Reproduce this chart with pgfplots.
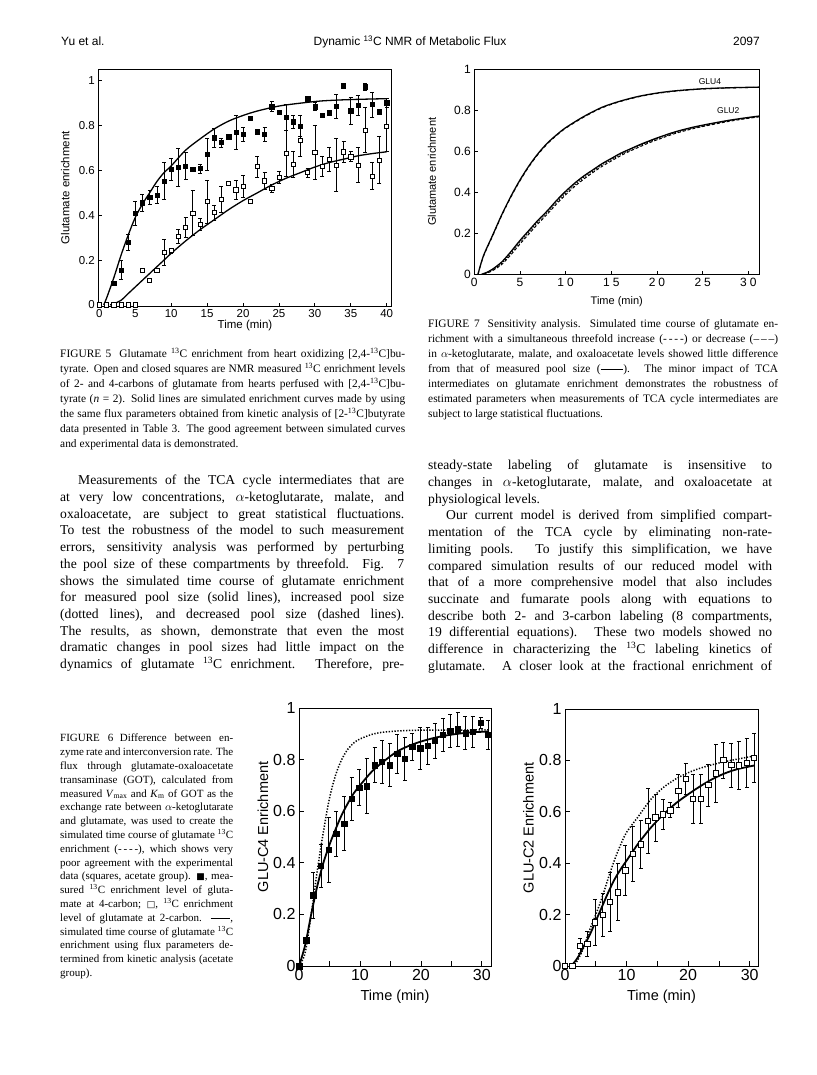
\documentclass[border=0pt]{standalone}
\usepackage{pgfplots}
\pgfplotsset{compat=1.18}
\usepackage{fontspec}
\setmainfont{Liberation Serif}
\setsansfont{Liberation Sans}
\newfontfamily\dejavu{DejaVu Sans}
\pgfplotsset{pg/.style={scale only axis, anchor=south west,
  axis line style={line width=0.9pt}, tick align=inside, tick pos=left,
  major tick style={line width=0.8pt,black},
  /pgf/number format/assume math mode=true, clip=false}}
\newcommand{\sq}{\textsuperscript{13}}
\begin{document}
\begin{tikzpicture}[x=1pt,y=1pt]
\useasboundingbox[fill=white] (0pt,0pt) rectangle (816pt,-1075pt);
% header
\node[anchor=base west,inner sep=0,font=\sffamily\fontsize{12}{12}\selectfont] at (61pt,-46pt) {Yu et al.};
\node[anchor=base,inner sep=0,font=\sffamily\fontsize{12}{12}\selectfont] at (410pt,-46pt) {Dynamic \sq C NMR of Metabolic Flux};
\node[anchor=base east,inner sep=0,font=\sffamily\fontsize{12}{12}\selectfont] at (760pt,-46pt) {2097};

% ---------------- FIGURE 5 ----------------
\begin{axis}[pg, at={(98.3pt,-306pt)}, width=293.4pt, height=236.7pt,
  xmin=-0.15, xmax=40.7, ymin=-0.005, ymax=1.051,
  xtick={0,5,...,40}, ytick={0,0.2,0.4,0.6,0.8,1},
  major tick length=3.5pt,
  tick label style={font=\sffamily\fontsize{11.5}{12}\selectfont},
  xlabel={Time (min)}, ylabel={Glutamate enrichment},
  label style={font=\sffamily\fontsize{11.5}{12}\selectfont},
  xlabel style={at={(axis description cs:0.5,-0.082)}, anchor=center},
  ylabel style={at={(axis description cs:-0.113,0.5)}, anchor=center}]
\addplot[black, line width=1.3pt, smooth] coordinates {
(0.6,0) (1,0.03) (2,0.12) (3,0.22) (4,0.31) (5,0.39) (6,0.45) (7,0.5) (8,0.55) (9,0.59) (10,0.62) (12,0.69) (14,0.74) (16,0.785) (18,0.82) (20,0.845) (22,0.865) (25,0.887) (28,0.9) (31,0.91) (35,0.916) (40,0.92)};
\addplot[black, line width=1.3pt, smooth] coordinates {
(1.5,0) (2,0.005) (3,0.02) (4,0.05) (5,0.08) (6,0.11) (7,0.14) (8,0.17) (9,0.2) (10,0.23) (12,0.285) (14,0.335) (16,0.38) (18,0.425) (20,0.465) (22,0.5) (24,0.535) (26,0.565) (28,0.59) (30,0.615) (32,0.635) (34,0.65) (36,0.665) (38,0.675) (40,0.683)};
\addplot[black, only marks, mark=square*, mark size=2.1pt, mark options={fill=black},
  error bars/.cd, y dir=both, y explicit, error bar style={line width=0.6pt},
  error mark options={rotate=90, mark size=2pt, line width=0.6pt}]
 table[x=t,y=v,y error=e] {
t v e
2 0.097 0
3 0.156 0.043
4 0.279 0.035
5 0.409 0.052
6 0.456 0.039
7 0.48 0.033
8 0.49 0.037
9 0.553 0.083
10 0.605 0.047
11 0.614 0.085
12 0.62 0.06
13 0.605 0
14 0.609 0.02
15 0.672 0.07
16 0.746 0.042
17 0.724 0.02
18 0.75 0.01
19 0.77 0.074
20 0.761 0.03
21 0.832 0
22 0.773 0
23 0.761 0.03
24 0.884 0.022
25 0.86 0
26 0.837 0.057
27 0.817 0.027
28 0.798 0.048
29 0.92 0
30 0.884 0.018
31 0.845 0
32 0.857 0
33 0.887 0.054
34 0.978 0.011
35 0.866 0.062
36 0.89 0.045
37 0.973 0.016
38 0.894 0.056
39 0.862 0
40 0.902 0.02
};
\addplot[black, only marks, mark=square*, mark size=2.1pt, mark options={fill=white, line width=0.6pt},
  error bars/.cd, y dir=both, y explicit, error bar style={line width=0.6pt},
  error mark options={rotate=90, mark size=2pt, line width=0.6pt}]
 table[x=t,y=v,y error=e] {
t v e
0 0 0
1 0 0
2 0 0
3 0 0
4 0 0
5 0 0
6 0.156 0
7 0.108 0
8 0.156 0
9 0.233 0.058
10 0.242 0.01
11 0.305 0.031
12 0.346 0.045
13 0.409 0.1
14 0.36 0.026
15 0.461 0.097
16 0.412 0.033
17 0.471 0.059
18 0.542 0
19 0.513 0.041
20 0.53 0.048
21 0.462 0
22 0.617 0.048
23 0.554 0.037
24 0.52 0.019
25 0.569 0.026
26 0.676 0.104
27 0.628 0.059
28 0.735 0.072
29 0.59 0.019
30 0.679 0.12
31 0.617 0.045
32 0.65 0.052
33 0.624 0.119
34 0.683 0.045
35 0.661 0.022
36 0.623 0.078
37 0.78 0.1
38 0.575 0.061
39 0.646 0.104
40 0.795 0.108
};
\end{axis}

% ---------------- FIGURE 7 ----------------
\begin{axis}[pg, at={(474.3pt,-274.3pt)}, width=285pt, height=205pt,
  xmin=0, xmax=31.2, ymin=0, ymax=1,
  xtick={0,5,...,30}, ytick={0,0.2,0.4,0.6,0.8,1},
  major tick length=3.5pt,
  tick label style={font=\sffamily\fontsize{12}{12}\selectfont},
  xticklabel style={font=\sffamily\fontsize{12}{12}\selectfont\addfontfeatures{LetterSpace=25}},
  xlabel={Time (min)}, ylabel={Glutamate enrichment},
  label style={font=\sffamily\fontsize{11}{12}\selectfont},
  xlabel style={at={(axis description cs:0.5,-0.135)}, anchor=center},
  ylabel style={at={(axis description cs:-0.149,0.5)}, anchor=center}]
\addplot[black, line width=1.3pt, smooth] coordinates {
(0.4,0) (1,0.09) (2,0.19) (3,0.29) (4,0.38) (5,0.46) (6,0.53) (7,0.59) (8,0.64) (9,0.68) (10,0.715) (12,0.77) (14,0.815) (16,0.845) (18,0.868) (20,0.884) (22,0.895) (25,0.905) (28,0.91) (31.2,0.913)};
\addplot[black, line width=0.9pt, smooth, dashed] coordinates {
(0.4,0) (1,0.087) (2,0.186) (3,0.286) (4,0.376) (5,0.456) (6,0.526) (7,0.586) (8,0.636) (9,0.677) (10,0.712) (12,0.767) (14,0.812) (16,0.843) (18,0.866) (20,0.882) (22,0.893) (25,0.904) (28,0.909) (31.2,0.912)};
\addplot[black, line width=1.3pt, smooth] coordinates {
(0.8,0) (1.5,0.012) (2,0.025) (3,0.06) (4,0.11) (5,0.165) (6,0.215) (7,0.265) (8,0.31) (9,0.36) (10,0.405) (11,0.445) (12,0.48) (13,0.51) (14,0.54) (15,0.565) (16,0.59) (17,0.61) (18,0.63) (19,0.648) (20,0.665) (22,0.695) (24,0.718) (26,0.736) (28,0.752) (30,0.765) (31.2,0.772)};
\addplot[black, line width=1pt, smooth, dash pattern=on 3pt off 2pt] coordinates {
(1,0) (1.5,0.008) (2,0.018) (3,0.048) (4,0.095) (5,0.148) (6,0.198) (7,0.248) (8,0.294) (9,0.343) (10,0.388) (11,0.429) (12,0.465) (13,0.497) (14,0.527) (15,0.553) (16,0.578) (17,0.6) (18,0.62) (19,0.639) (20,0.656) (22,0.687) (24,0.711) (26,0.73) (28,0.747) (30,0.761) (31.2,0.768)};
\addplot[black, line width=1pt, smooth, dash pattern=on 1.2pt off 1.5pt] coordinates {
(0.9,0) (1.5,0.01) (2,0.021) (3,0.054) (4,0.103) (5,0.157) (6,0.207) (7,0.257) (8,0.302) (9,0.352) (10,0.397) (11,0.437) (12,0.473) (13,0.504) (14,0.534) (15,0.559) (16,0.584) (17,0.605) (18,0.625) (19,0.644) (20,0.66) (22,0.691) (24,0.715) (26,0.733) (28,0.75) (30,0.763) (31.2,0.77)};
\node[font=\sffamily\fontsize{8.5}{9}\selectfont] at (axis cs:25.8,0.94) {GLU4};
\node[font=\sffamily\fontsize{8.5}{9}\selectfont] at (axis cs:27.8,0.80) {GLU2};
\end{axis}

% ---------------- FIGURE 6 left ----------------
\begin{axis}[pg, at={(299pt,-966pt)}, width=192pt, height=258pt,
  xmin=0, xmax=31.5, ymin=0, ymax=1,
  xtick={0,5,...,30}, xticklabels={0,,10,,20,,30}, ytick={0,0.2,0.4,0.6,0.8,1},
  major tick length=5pt,
  tick label style={font=\sffamily\fontsize{16}{16}\selectfont},
  xlabel={Time (min)}, ylabel={GLU-C4 Enrichment},
  label style={font=\sffamily\fontsize{14.5}{15}\selectfont},
  xlabel style={at={(axis description cs:0.5,-0.12)}, anchor=center},
  ylabel style={at={(axis description cs:-0.1875,0.539)}, anchor=center}]
\addplot[black, line width=1.5pt, dash pattern=on 1.3pt off 1.6pt, smooth] coordinates {
(0,0) (1,0.05) (2,0.2) (3,0.37) (4,0.52) (5,0.65) (6,0.74) (7,0.8) (8,0.84) (9,0.865) (10,0.88) (12,0.898) (14,0.907) (17,0.912) (20,0.914) (31,0.915)};
\addplot[black, line width=1.8pt, smooth] coordinates {
(0,0) (1,0.08) (2,0.2) (3,0.31) (4,0.4) (5,0.47) (6,0.53) (7,0.585) (8,0.63) (9,0.67) (10,0.70) (12,0.755) (14,0.795) (16,0.83) (18,0.853) (20,0.87) (22,0.883) (24,0.893) (26,0.9) (28,0.905) (31,0.909)};
\addplot[black, only marks, mark=square*, mark size=2.7pt, mark options={fill=black},
  error bars/.cd, y dir=both, y explicit, error bar style={line width=0.7pt},
  error mark options={rotate=90, mark size=2pt, line width=0.7pt}]
 table[x=t,y=v,y error=e] {
t v e
0 0 0
1.15 0.1 0
2.35 0.274 0.089
3.6 0.388 0.083
4.87 0.45 0.125
6.1 0.513 0.088
7.4 0.552 0.104
8.65 0.649 0.084
9.9 0.692 0.07
11.1 0.697 0.106
12.4 0.779 0.069
13.6 0.792 0.084
14.9 0.779 0.083
16.1 0.822 0.077
17.35 0.803 0.084
18.6 0.85 0.053
19.9 0.844 0.082
21.1 0.853 0.073
22.3 0.873 0.068
23.6 0.896 0.065
24.8 0.912 0.064
26.05 0.918 0.065
27.3 0.903 0.064
28.5 0.909 0.06
29.8 0.942 0.02
31 0.896 0.057
};
\end{axis}

% ---------------- FIGURE 6 right ----------------
\begin{axis}[pg, at={(565pt,-966pt)}, width=193pt, height=257pt,
  xmin=0, xmax=31.35, ymin=0, ymax=1,
  xtick={0,5,...,30}, xticklabels={0,,10,,20,,30}, ytick={0,0.2,0.4,0.6,0.8,1},
  major tick length=5pt,
  tick label style={font=\sffamily\fontsize{16}{16}\selectfont},
  xlabel={Time (min)}, ylabel={GLU-C2 Enrichment},
  label style={font=\sffamily\fontsize{14.5}{15}\selectfont},
  xlabel style={at={(axis description cs:0.5,-0.12)}, anchor=center},
  ylabel style={at={(axis description cs:-0.19,0.537)}, anchor=center}]
\addplot[black, line width=1.5pt, dash pattern=on 1.3pt off 1.6pt, smooth] coordinates {
(1.2,0) (2,0.02) (3,0.07) (4,0.14) (5,0.2) (6,0.265) (7,0.34) (8,0.41) (9,0.47) (10,0.52) (12,0.585) (14,0.65) (16,0.695) (18,0.728) (20,0.752) (22,0.77) (25,0.79) (28,0.805) (30.7,0.817)};
\addplot[black, line width=1.8pt, smooth] coordinates {
(1,0) (2,0.03) (3,0.075) (4,0.12) (5,0.175) (6,0.23) (7,0.285) (8,0.335) (9,0.375) (10,0.41) (11,0.445) (12,0.48) (14,0.54) (16,0.59) (18,0.633) (20,0.668) (22,0.7) (24,0.728) (26,0.75) (28,0.766) (30.7,0.78)};
\addplot[black, only marks, mark=square*, mark size=2.7pt, mark options={fill=white, line width=0.7pt},
  error bars/.cd, y dir=both, y explicit, error bar style={line width=0.7pt},
  error mark options={rotate=90, mark size=2pt, line width=0.7pt}]
 table[x=t,y=v,y error=e] {
t v e
0 0 0
1.2 0 0
2.43 0.078 0.03
3.6 0.087 0.048
4.86 0.17 0.089
6.1 0.2 0.083
7.3 0.25 0.116
8.54 0.287 0.111
9.8 0.372 0.096
11 0.437 0.106
12.3 0.473 0.094
13.5 0.565 0.127
14.7 0.578 0.091
15.9 0.59 0.057
17.1 0.606 0.029
18.4 0.682 0.065
19.6 0.729 0.06
20.8 0.65 0.095
22.05 0.65 0.095
23.3 0.704 0.081
24.5 0.75 0.113
25.7 0.802 0.07
27 0.782 0.085
28.2 0.781 0.093
29.5 0.791 0.094
30.7 0.81 0.095
};
\end{axis}

% ---------------- captions & text ----------------
\node[anchor=north west,inner sep=0,text width=345pt,align=justify,
 font=\fontsize{11.4}{15}\selectfont] at (60pt,-347pt) {\strut FIGURE 5\hspace{0.7em}Glutamate \sq C enrichment from heart oxidizing [2,4-\sq C]bu-\linebreak
tyrate. Open and closed squares are NMR measured \sq C enrichment levels\linebreak
of 2- and 4-carbons of glutamate from hearts perfused with [2,4-\sq C]bu-\linebreak
tyrate (\textit{n} = 2). Solid lines are simulated enrichment curves made by using\linebreak
the same flux parameters obtained from kinetic analysis of [2-\sq C]butyrate\linebreak
data presented in Table 3. The good agreement between simulated curves\linebreak
and experimental data is demonstrated.};

\node[anchor=north west,inner sep=0,text width=350pt,align=justify,
 font=\fontsize{11.4}{15}\selectfont] at (428pt,-317pt) {\strut FIGURE 7\hspace{0.7em}Sensitivity analysis. Simulated time course of glutamate en-\linebreak
richment with a simultaneous threefold increase (-\,-\,-\,-) or decrease (--\,--\,--)\linebreak
in $\alpha$-ketoglutarate, malate, and oxaloacetate levels showed little difference\linebreak
from that of measured pool size (\rule[0.27em]{2em}{0.5pt}). The minor impact of TCA\linebreak
intermediates on glutamate enrichment demonstrates the robustness of\linebreak
estimated parameters when measurements of TCA cycle intermediates are\linebreak
subject to large statistical fluctuations.};

\node[anchor=north west,inner sep=0,text width=344pt,align=justify,
 font=\fontsize{13.6}{16.7}\selectfont] at (60pt,-473pt) {\strut\hspace*{18pt}Measurements of the TCA cycle intermediates that are\linebreak
at very low concentrations, $\alpha$-ketoglutarate, malate, and\linebreak
oxaloacetate, are subject to great statistical fluctuations.\linebreak
To test the robustness of the model to such measurement\linebreak
errors, sensitivity analysis was performed by perturbing\linebreak
the pool size of these compartments by threefold. Fig. 7\linebreak
shows the simulated time course of glutamate enrichment\linebreak
for measured pool size (solid lines), increased pool size\linebreak
(dotted lines), and decreased pool size (dashed lines).\linebreak
The results, as shown, demonstrate that even the most\linebreak
dramatic changes in pool sizes had little impact on the\linebreak
dynamics of glutamate \sq C enrichment. Therefore, pre-{\parfillskip=0pt\par}};

\node[anchor=north west,inner sep=0,text width=344pt,align=justify,
 font=\fontsize{13.6}{16.7}\selectfont] at (428pt,-458pt) {\strut steady-state labeling of glutamate is insensitive to\linebreak
changes in $\alpha$-ketoglutarate, malate, and oxaloacetate at\linebreak
physiological levels.\par
\hspace*{18pt}Our current model is derived from simplified compart-\linebreak
mentation of the TCA cycle by eliminating non-rate-\linebreak
limiting pools. To justify this simplification, we have\linebreak
compared simulation results of our reduced model with\linebreak
that of a more comprehensive model that also includes\linebreak
succinate and fumarate pools along with equations to\linebreak
describe both 2- and 3-carbon labeling (8 compartments,\linebreak
19 differential equations). These two models showed no\linebreak
difference in characterizing the \sq C labeling kinetics of\linebreak
glutamate. A closer look at the fractional enrichment of{\parfillskip=0pt\par}};

\node[anchor=north west,inner sep=0,text width=173pt,align=justify,
 font=\fontsize{11}{13.8}\selectfont] at (60pt,-732pt) {\strut FIGURE 6\hspace{0.6em}Difference between en-\linebreak
zyme rate and interconversion rate. The\linebreak
flux through glutamate-oxaloacetate\linebreak
transaminase (GOT), calculated from\linebreak
measured \textit{V}\textsubscript{max} and \textit{K}\textsubscript{m} of GOT as the\linebreak
exchange rate between $\alpha$-ketoglutarate\linebreak
and glutamate, was used to create the\linebreak
simulated time course of glutamate \sq C\linebreak
enrichment (-\,-\,-\,-), which shows very\linebreak
poor agreement with the experimental\linebreak
data (squares, acetate group). {\dejavu\small ■}, mea-\linebreak
sured \sq C enrichment level of gluta-\linebreak
mate at 4-carbon; {\dejavu\small □}, \sq C enrichment\linebreak
level of glutamate at 2-carbon. \rule[0.27em]{1.8em}{0.5pt},\linebreak
simulated time course of glutamate \sq C\linebreak
enrichment using flux parameters de-\linebreak
termined from kinetic analysis (acetate\linebreak
group).};
\end{tikzpicture}
\end{document}
